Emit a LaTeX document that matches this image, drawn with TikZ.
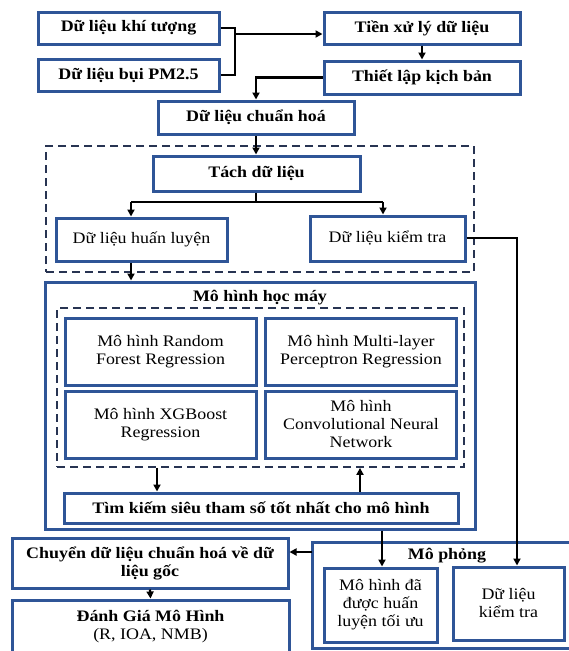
\documentclass[tikz,border=0pt]{standalone}
\usepackage{fontspec}
\setmainfont{Liberation Serif}[FakeStretch=1.12]
\usetikzlibrary{arrows.meta}
\definecolor{bxblue}{RGB}{47,85,151}
\definecolor{dashc}{RGB}{40,52,82}
\begin{document}
\begin{tikzpicture}[x=1pt,y=-1pt,
  box/.style={draw=bxblue, line width=3pt, fill=white, inner sep=2pt, align=center, font=\fontsize{16}{18}\selectfont},
  bbox/.style={box, font=\fontsize{16}{18}\selectfont\bfseries},
  cont/.style={draw=bxblue, line width=3pt, fill=white, inner sep=0pt},
  dbox/.style={draw=dashc, line width=1.8pt, dash pattern=on 8pt off 5pt, inner sep=0pt},
  ttl/.style={font=\fontsize{16}{18}\selectfont\bfseries, inner sep=1pt},
  ln/.style={line width=2.2pt},
  arr/.style={line width=2.2pt, -{Triangle[length=7pt,width=7pt]}}]
\useasboundingbox (0,0) rectangle (568,651);
% containers
\node[dbox, minimum width=428pt, minimum height=126pt] (d1) at (260,209) {};
\node[cont, minimum width=430pt, minimum height=247pt] (ml) at (260,405.5) {};
\node[dbox, minimum width=407pt, minimum height=159pt] (d2) at (260.5,387.5) {};
\node[cont, minimum width=268pt, minimum height=106pt] (mp) at (446,595) {};
\node[ttl] (mlt) at (260,298) {Mô hình học máy};
\node[ttl] (mpt) at (447,556) {Mô phỏng};
% top
\node[bbox, minimum width=181pt, minimum height=32pt] (kt) at (128.5,28) {Dữ liệu khí tượng};
\node[bbox, minimum width=181pt, minimum height=32pt] (pm) at (128.5,75) {Dữ liệu bụi PM2.5};
\node[bbox, minimum width=196pt, minimum height=32pt] (tx) at (422,28) {Tiền xử lý dữ liệu};
\node[bbox, minimum width=196pt, minimum height=33pt] (tl) at (422,77.5) {Thiết lập kịch bản};
\node[bbox, minimum width=196pt, minimum height=33pt] (ch) at (256,117.5) {Dữ liệu chuẩn hoá};
\node[bbox, minimum width=207pt, minimum height=35pt] (tach) at (256.5,173.5) {Tách dữ liệu};
\node[box, minimum width=171pt, minimum height=43pt] (hl) at (141.5,239.5) {Dữ liệu huấn luyện};
\node[box, minimum width=155pt, minimum height=45pt] (kt2) at (387.5,238.5) {Dữ liệu kiểm tra};
% models
\node[box, minimum width=191pt, minimum height=67pt] (rf) at (160.5,351.5) {Mô hình Random\\Forest Regression};
\node[box, minimum width=191pt, minimum height=67pt] (mlp) at (361,351.5) {Mô hình Multi-layer\\Perceptron Regression};
\node[box, minimum width=191pt, minimum height=67pt] (xgb) at (160.5,424.5) {Mô hình XGBoost\\Regression};
\node[box, minimum width=191pt, minimum height=67pt] (cnn) at (361,424.5) {Mô hình\\Convolutional Neural\\Network};
\node[bbox, minimum width=394pt, minimum height=30pt] (tk) at (261,508) {Tìm kiếm siêu tham số tốt nhất cho mô hình};
% bottom
\node[bbox, minimum width=276pt, minimum height=50pt] (cv) at (150,563) {Chuyển dữ liệu chuẩn hoá về dữ\\liệu gốc};
\node[box, minimum width=277pt, minimum height=54pt] (dg) at (150.5,627) {\textbf{Đánh Giá Mô Hình}\\(R, IOA, NMB)};
\node[box, minimum width=113pt, minimum height=74pt] (mhd) at (380.5,605) {Mô hình đã\\được huấn\\luyện tối ưu};
\node[box, minimum width=111pt, minimum height=73pt] (dlkt) at (508.5,603.5) {Dữ liệu\\kiểm tra};
% connectors
\coordinate (j) at (235,28);
\coordinate (j2) at (235,34);
\draw[ln] (kt.east) -- (j) -- (j |- pm.east) -- (pm.east);
\draw[arr] (j2) -- (j2 -| tx.west);
\draw[arr] (tx.south) -- (tl.north);
\draw[arr] (tl.west) -| (ch.north);
\draw[arr] (ch.south) -- (ch.south |- tach.north);
\coordinate (s) at (256,202);
\coordinate (sl) at (131,202);
\coordinate (sr) at (383,202);
\draw[ln] (tach.south -| s) -- (s);
\draw[ln] (sl) -- (sr);
\draw[arr] (sl) -- (sl |- hl.north);
\draw[arr] (sr) -- (sr |- kt2.north);
\draw[arr] (sl |- hl.south) -- (sl |- ml.north);
\coordinate (k1) at (517,238);
\draw[arr] (kt2.east |- k1) -- (k1) -- (k1 |- dlkt.north);
\coordinate (a) at (157,0);
\coordinate (b) at (360,0);
\draw[arr] (a |- d2.south) -- (a |- tk.north);
\draw[arr] (b |- tk.north) -- (b |- d2.south);
\coordinate (c) at (382,0);
\draw[arr] (c |- ml.south) -- (c |- mhd.north);
\coordinate (m) at (312,552);
\draw[arr] (m) -- (m -| cv.east);
\draw[arr] (cv.south) -- (dg.north);
\end{tikzpicture}
\end{document}
